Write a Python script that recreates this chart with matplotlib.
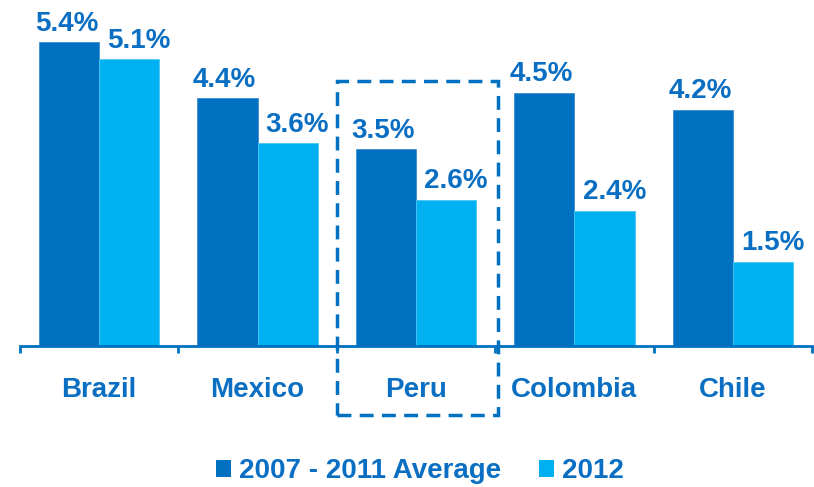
import matplotlib.pyplot as plt
from matplotlib.patches import Patch, Rectangle
import numpy as np

plt.rcParams['font.family'] = ['Liberation Sans', 'DejaVu Sans']
plt.rcParams['font.weight'] = 'bold'

countries = ['Brazil', 'Mexico', 'Peru', 'Colombia', 'Chile']
avg_2007_2011 = [5.4, 4.4, 3.5, 4.5, 4.2]
year_2012 = [5.1, 3.6, 2.6, 2.4, 1.5]
series_names = ['2007 - 2011 Average', '2012']

DARK = '#0070C0'
LIGHT = '#00B0F0'
TEXT = '#0A6FC2'
FS = 20

fig = plt.figure(figsize=(8.14, 4.87), dpi=100)
ax = fig.add_axes([20 / 814, 1 - 346 / 487, 792 / 814, 346 / 487])

x = np.arange(len(countries))
w = 0.38
b1 = ax.bar(x - w / 2, avg_2007_2011, w, color=DARK, edgecolor='#3d8fd0', linewidth=0.6)
b2 = ax.bar(x + w / 2, year_2012, w, color=LIGHT, edgecolor='#4cc6f4', linewidth=0.6)

for bars, vals, dx in ((b1, avg_2007_2011, -2), (b2, year_2012, 7)):
    for r, v in zip(bars, vals):
        ax.annotate('%.1f%%' % v, (r.get_x() + r.get_width() / 2, v),
                    xytext=(dx, 4), textcoords='offset points',
                    ha='center', va='bottom', fontsize=FS,
                    fontweight='bold', color=TEXT)

ax.set_xlim(-0.5, 4.5)
ax.set_ylim(0, 6.15)

for s in ['top', 'right', 'left']:
    ax.spines[s].set_visible(False)
ax.spines['bottom'].set_color(DARK)
ax.spines['bottom'].set_linewidth(2)
ax.set_yticks([])

# group separators as major ticks, country names on minor ticks
ax.set_xticks(np.arange(-0.5, 5, 1))
ax.set_xticklabels([])
ax.tick_params(axis='x', which='major', direction='out', length=5, width=2, color=DARK)
ax.set_xticks(x, minor=True)
ax.set_xticklabels(countries, minor=True, fontsize=FS, fontweight='bold', color=TEXT)
ax.tick_params(axis='x', which='minor', length=0, pad=22)

# dashed highlight box around Peru
hl = countries.index('Peru')
box = Rectangle((hl - 0.5, -1.23), 1.02, 5.94, fill=False, edgecolor=DARK,
                linewidth=2.5, linestyle=(0, (4, 2.4)), clip_on=False)
ax.add_patch(box)

handles = [Patch(facecolor=DARK), Patch(facecolor=LIGHT)]
fig.legend(handles, series_names, loc='center', bbox_to_anchor=(420 / 814, 1 - 471 / 487),
           ncol=2, frameon=False, labelcolor=TEXT,
           handlelength=0.55, handleheight=0.55, handletextpad=0.3,
           columnspacing=1.35, prop={'weight': 'bold', 'size': FS})

fig.savefig('out.png', dpi=100)
